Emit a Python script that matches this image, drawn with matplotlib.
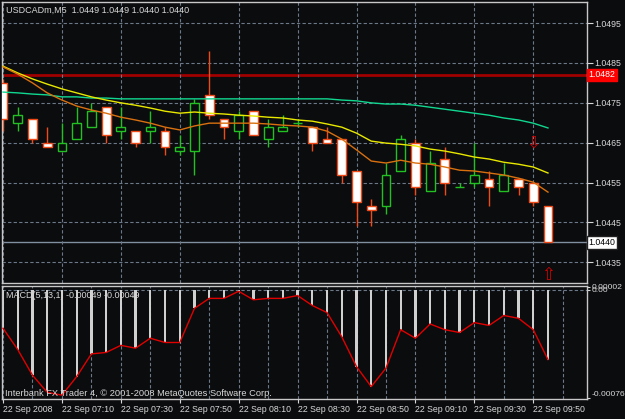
import numpy as np
import matplotlib
matplotlib.use("Agg")
import matplotlib.pyplot as plt

# ---------------- data ----------------
time_labels = ["22 Sep 2008", "22 Sep 07:10", "22 Sep 07:30", "22 Sep 07:50",
               "22 Sep 08:10", "22 Sep 08:30", "22 Sep 08:50", "22 Sep 09:10",
               "22 Sep 09:30", "22 Sep 09:50"]

open_ = [1.0480, 1.0470, 1.0471, 1.0465, 1.0463, 1.0466, 1.0469, 1.0474, 1.0468, 1.0468,
         1.0468, 1.0468, 1.0463, 1.0463, 1.0477, 1.0471, 1.0468, 1.0473, 1.0466, 1.0468,
         1.0470, 1.0469, 1.0466, 1.0466, 1.0458, 1.0449, 1.0449, 1.0458, 1.0465, 1.0453,
         1.0461, 1.0454, 1.0455, 1.0456, 1.0453, 1.0456, 1.0455, 1.0449]
high = [1.0481, 1.0474, 1.0471, 1.0469, 1.0470, 1.0474, 1.0475, 1.0474, 1.0474, 1.0468,
        1.0473, 1.0469, 1.0467, 1.0476, 1.0488, 1.0471, 1.0473, 1.0473, 1.0471, 1.0472,
        1.0471, 1.0469, 1.0469, 1.0466, 1.0458, 1.0451, 1.0460, 1.0467, 1.0466, 1.0463,
        1.0464, 1.0455, 1.0465, 1.0458, 1.0460, 1.0456, 1.0455, 1.0449]
low = [1.0468, 1.0468, 1.0465, 1.0464, 1.0463, 1.0466, 1.0469, 1.0465, 1.0466, 1.0464,
       1.0465, 1.0462, 1.0462, 1.0457, 1.0471, 1.0466, 1.0466, 1.0467, 1.0464, 1.0468,
       1.0469, 1.0463, 1.0465, 1.0455, 1.0444, 1.0444, 1.0447, 1.0458, 1.0452, 1.0453,
       1.0452, 1.0454, 1.0454, 1.0449, 1.0453, 1.0452, 1.0449, 1.0440]
close = [1.0471, 1.0472, 1.0466, 1.0464, 1.0465, 1.0470, 1.0473, 1.0467, 1.0469, 1.0465,
         1.0469, 1.0464, 1.0464, 1.0475, 1.0472, 1.0469, 1.0472, 1.0467, 1.0469, 1.0469,
         1.0470, 1.0465, 1.0465, 1.0457, 1.0450, 1.0448, 1.0457, 1.0466, 1.0454, 1.0460,
         1.0455, 1.0454, 1.0457, 1.0454, 1.0457, 1.0454, 1.0450, 1.0440]

ma_yellow = [1.04842, 1.04825, 1.04810, 1.04797, 1.04785, 1.04775, 1.04765, 1.04757, 1.04750, 1.04744,
             1.04737, 1.04729, 1.04724, 1.04727, 1.04724, 1.04722, 1.04719, 1.04717, 1.04714, 1.04712,
             1.04707, 1.04704, 1.04697, 1.04689, 1.04674, 1.04654, 1.04649, 1.04646, 1.04642, 1.04634,
             1.04629, 1.04622, 1.04614, 1.04609, 1.04601, 1.04596, 1.04589, 1.04574]
ma_orange = [1.04840, 1.04822, 1.04800, 1.04775, 1.04757, 1.04742, 1.04732, 1.04724, 1.04714, 1.04707,
             1.04699, 1.04689, 1.04682, 1.04692, 1.04699, 1.04699, 1.04699, 1.04699, 1.04697, 1.04694,
             1.04692, 1.04689, 1.04679, 1.04659, 1.04632, 1.04604, 1.04599, 1.04606, 1.04599, 1.04596,
             1.04589, 1.04581, 1.04579, 1.04574, 1.04569, 1.04561, 1.04551, 1.04526]
ma_green = [1.04777, 1.04775, 1.04772, 1.04770, 1.04765, 1.04765, 1.04762, 1.04762, 1.04760, 1.04760,
            1.04760, 1.04760, 1.04760, 1.04760, 1.04760, 1.04760, 1.04760, 1.04760, 1.04760, 1.04760,
            1.04760, 1.04760, 1.04760, 1.04757, 1.04755, 1.04750, 1.04747, 1.04747, 1.04744, 1.04739,
            1.04734, 1.04729, 1.04724, 1.04719, 1.04712, 1.04707, 1.04699, 1.04687]

macd = [-0.00027, -0.00042, -0.00060, -0.00072, -0.00074, -0.00061, -0.00045, -0.00044, -0.00039, -0.00041,
        -0.00034, -0.00037, -0.00037, -0.00013, -0.00006, -0.00006, -0.00001, -0.00007, -0.00006, -0.00006,
        -0.00004, -0.00011, -0.00016, -0.00033, -0.00054, -0.00068, -0.00055, -0.00028, -0.00034, -0.00024,
        -0.00028, -0.00030, -0.00023, -0.00025, -0.00018, -0.00020, -0.00028, -0.00049]

price_ticks = [1.0435, 1.0445, 1.0455, 1.0465, 1.0475, 1.0485, 1.0495]
level_red = 1.0482
bid_price = 1.0440
macd_ticks = [0.00002, 0.0, -0.00076]
macd_tick_labels = ["0.00002", "0.00", "-0.00076"]
arrow_down = (36, 1.04649)
arrow_up = (37, 1.04318)

title = "USDCADm,M5  1.0449 1.0449 1.0440 1.0440"
macd_title = "MACD(5,13,1) -0.00049 -0.00049"
copyright_text = "Interbank FX Trader 4, \u00a9 2001-2008 MetaQuotes Software Corp."

# ---------------- style ----------------
BG = "#0b0c0e"
FG = "#d8d8d8"
GRID = "#6a7888"
BULL = "#22c022"
BEAR = "#f04a18"
FONT = "Liberation Sans"
FS = 6.3

plt.rcParams["font.family"] = [FONT, "DejaVu Sans"]

fig = plt.figure(figsize=(6.25, 4.19), dpi=100, facecolor=BG)
W, H = 625.0, 419.0
ax = fig.add_axes([2 / W, 1 - 283 / H, 585 / W, 281 / H], facecolor=BG)
axm = fig.add_axes([2 / W, 1 - 399 / H, 585 / W, 113 / H], facecolor=BG, sharex=ax)

n = len(open_)
idx = np.arange(n)
o = np.array(open_); c = np.array(close); h = np.array(high); l = np.array(low)
bull = c >= o

for a in (ax, axm):
    for s in a.spines.values():
        s.set_color("#c8c8c8")
        s.set_linewidth(1.0)

ax.set_xlim(-0.07, 39.65)
ax.set_ylim(1.04298, 1.05003)

ax.set_xticks(np.arange(0, 40, 2))
ax.tick_params(axis="x", length=0, labelbottom=False)
ax.grid(True, axis="both", color=GRID, linestyle=(0, (3, 2)), linewidth=0.8, zorder=0)
ax.yaxis.tick_right()
ax.set_yticks(price_ticks)
ax.set_yticklabels([f"{p:.4f}" for p in price_ticks])
ax.tick_params(axis="y", colors=FG, length=4, width=0.8, pad=1.5, labelsize=FS)

# wicks
ax.vlines(idx[bull], l[bull], h[bull], color=BULL, linewidth=1.0, zorder=2)
ax.vlines(idx[~bull], l[~bull], h[~bull], color=BEAR, linewidth=1.0, zorder=2)
# bodies
bw = 0.6
ax.bar(idx[bull], c[bull] - o[bull], bottom=o[bull], width=bw, facecolor=BG,
       edgecolor=BULL, linewidth=1.0, zorder=3)
ax.bar(idx[~bull], o[~bull] - c[~bull], bottom=c[~bull], width=bw, facecolor="white",
       edgecolor=BEAR, linewidth=1.0, zorder=3)

# moving averages
ax.plot(idx, ma_green, color="#10d890", linewidth=1.0, zorder=4)
ax.plot(idx, ma_yellow, color="#e8e800", linewidth=1.0, zorder=4)
ax.plot(idx, ma_orange, color="#d87010", linewidth=1.0, zorder=4)

# levels
ax.axhline(level_red, color="#a00000", linewidth=2.0, zorder=1.5)
ax.axhline(bid_price, color="#8090a0", linewidth=1.0, zorder=1.5)
yt = ax.get_yaxis_transform()
ax.text(1.003, level_red, f"{level_red:.4f}", transform=yt, ha="left", va="center",
        color="white", fontsize=FS,
        bbox=dict(boxstyle="square,pad=0.2", fc="#ff0000", ec="#ff0000"), clip_on=False)
ax.text(1.003, bid_price, f"{bid_price:.4f}", transform=yt, ha="left", va="center",
        color="black", fontsize=FS,
        bbox=dict(boxstyle="square,pad=0.2", fc="white", ec="#202020"), clip_on=False)

# arrows
ax.text(arrow_down[0], arrow_down[1], "\u21e9", color="#d00000", ha="center", va="center",
        fontsize=12, family="DejaVu Sans", zorder=5)
ax.text(arrow_up[0], arrow_up[1], "\u21e7", color="#d00000", ha="center", va="center",
        fontsize=12, family="DejaVu Sans", zorder=5)

ax.text(0.006, 0.985, title, transform=ax.transAxes, ha="left", va="top",
        color=FG, fontsize=FS + 0.2)

# ---------------- MACD ----------------
axm.set_ylim(-0.000767, 0.000027)
axm.bar(idx, macd, width=0.15, color="#d0d0d0", zorder=2)
axm.plot(idx, macd, color="#e00000", linewidth=1.0, zorder=3)
axm.axhline(0, color=GRID, linestyle=(0, (3, 2)), linewidth=0.8, zorder=1)
label_pos = np.arange(0, 40, 4)[:len(time_labels)]
axm.set_xticks(label_pos)
axm.set_xticks(np.arange(0, 40, 2), minor=True)
axm.grid(True, axis="x", which="both", color=GRID, linestyle=(0, (3, 2)), linewidth=0.8, zorder=0)
axm.set_xticklabels(time_labels, ha="left")
axm.tick_params(axis="x", which="major", colors=FG, length=3, width=0.8, pad=1.5, labelsize=FS)
axm.tick_params(axis="x", which="minor", length=0)
axm.yaxis.tick_right()
axm.set_yticks(macd_ticks)
axm.set_yticklabels(macd_tick_labels)
axm.tick_params(axis="y", colors=FG, length=2, width=0.8, pad=1.0, labelsize=FS - 0.2)
yl = axm.get_yticklabels()
yl[-1].set_va("bottom")

axm.text(0.006, 0.96, macd_title, transform=axm.transAxes, ha="left", va="top",
         color=FG, fontsize=FS + 0.2)
axm.text(0.005, 0.01, copyright_text, transform=axm.transAxes, ha="left", va="bottom",
         color=FG, fontsize=FS + 0.4)

fig.savefig("out.png", dpi=100, facecolor=BG)
